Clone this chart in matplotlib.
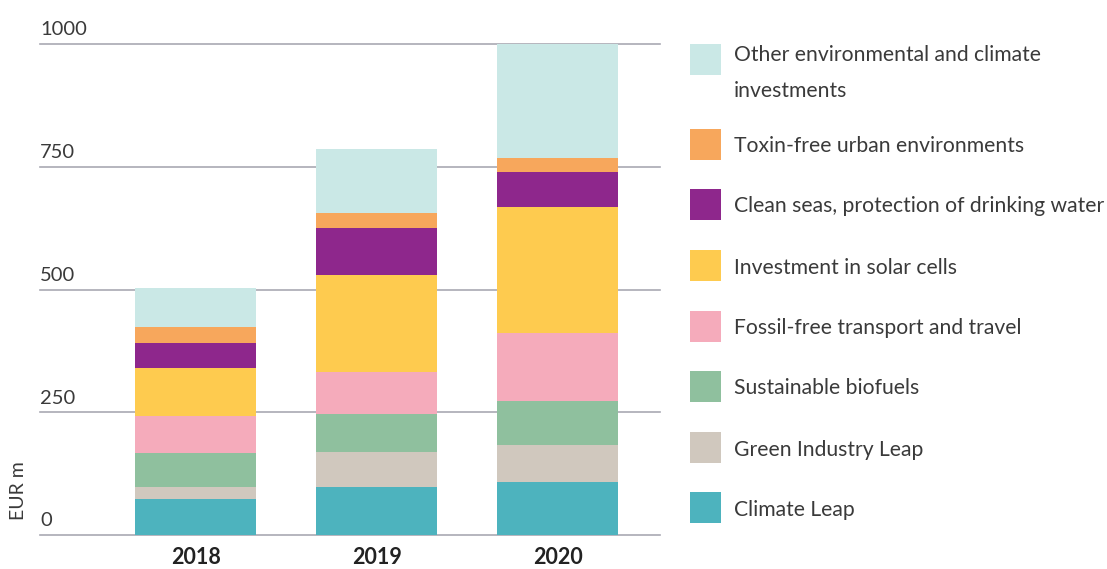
import textwrap
import matplotlib
matplotlib.use("Agg")
import matplotlib.pyplot as plt
from matplotlib.patches import Rectangle

plt.rcParams['font.family'] = ['Lato', 'DejaVu Sans']

# Values in EUR m (stacking order, bottom to top)
years = ["2018", "2019", "2020"]
categories = [
    "Climate Leap",
    "Green Industry Leap",
    "Sustainable biofuels",
    "Fossil-free transport and travel",
    "Investment in solar cells",
    "Clean seas, protection of drinking water",
    "Toxin-free urban environments",
    "Other environmental and climate investments",
]
climate_leap = [73, 98, 108]
green_industry = [25, 71, 75]
biofuels = [68, 77, 90]
fossil_free = [77, 86, 139]
solar = [98, 197, 256]
clean_seas = [51, 96, 71]
toxin_free = [31, 31, 29]
other = [81, 130, 232]
series = [climate_leap, green_industry, biofuels, fossil_free,
          solar, clean_seas, toxin_free, other]
yticks = [0, 250, 500, 750, 1000]

colors = ['#4db3be', '#d0c8be', '#8fc09e', '#f5abbb',
          '#fecb4f', '#8e278c', '#f7a75c', '#cae8e6']
text_color = '#3a3a3a'

W, H = 1107, 569
fig = plt.figure(figsize=(W / 100, H / 100), dpi=100)

def fx(px):
    return px / W

def fy(py):
    return 1 - py / H

ax = fig.add_axes([fx(40), fy(535), fx(660) - fx(40), fy(44) - fy(535)])

x = list(range(len(years)))
bottom = [0] * len(years)
for vals, col in zip(series, colors):
    ax.bar(x, vals, bottom=bottom, width=0.67, color=col, zorder=2)
    bottom = [b + v for b, v in zip(bottom, vals)]

ax.set_xlim(-0.86, 2.566)
ax.set_ylim(0, 1000)

# horizontal gridlines with labels sitting above them
for t in yticks:
    ax.axhline(t, color='#a9a9b3', lw=1.2, zorder=1, clip_on=False)
    ax.annotate(str(t), xy=(0, t), xycoords=('axes fraction', 'data'),
                xytext=(0, 4), textcoords='offset points',
                ha='left', va='bottom', fontsize=14.5, color=text_color)

ax.set_yticks([])
ax.set_xticks(x)
ax.set_xticklabels(years, fontsize=15.5, fontweight='bold', color='#222222')
ax.tick_params(axis='x', length=0, pad=9)
for s in ax.spines.values():
    s.set_visible(False)

fig.text(fx(18), fy(491), "EUR m", rotation=90, ha='center', va='center',
         fontsize=14, color=text_color)

# legend, drawn top to bottom (reverse of stacking order)
sq = 31
legend_tops = [44, 129, 189, 250, 311, 371, 432, 492]
for top, lbl, col in zip(legend_tops, categories[::-1], colors[::-1]):
    fig.add_artist(Rectangle((fx(690), fy(top + sq)), fx(sq), sq / H,
                             transform=fig.transFigure, color=col, lw=0))
    txt = textwrap.fill(lbl, 40)
    n_lines = txt.count('\n') + 1
    if n_lines > 1:
        fig.text(fx(734), fy(top + 1), txt, ha='left', va='top',
                 fontsize=15.2, color=text_color, linespacing=2.0)
    else:
        fig.text(fx(734), fy(top + sq / 2 + 2), txt, ha='left', va='center',
                 fontsize=15.2, color=text_color)

fig.savefig("out.png", dpi=100)
